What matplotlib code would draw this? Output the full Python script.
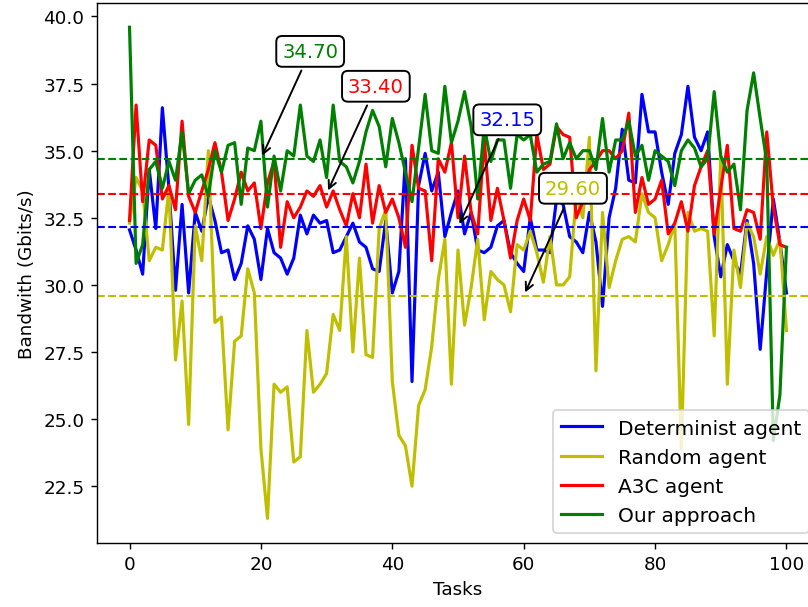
import numpy as np
import matplotlib
matplotlib.use("Agg")
import matplotlib.pyplot as plt

tasks = np.arange(101)

determinist = [32.05, 31.3, 30.4, 34.3, 32.1, 36.6, 33.6, 29.8, 33.0, 29.7,
               32.7, 32.0, 33.3, 32.4, 31.2, 31.3, 30.2, 30.8, 32.2, 31.7,
               30.2, 32.1, 31.2, 31.0, 30.4, 31.0, 32.6, 31.9, 32.6, 32.3,
               32.4, 31.2, 31.3, 31.8, 32.3, 31.6, 31.4, 30.6, 30.5, 32.4,
               29.7, 30.5, 34.7, 26.4, 33.7, 34.9, 33.5, 34.2, 31.8, 32.7,
               33.5, 31.9, 32.7, 31.3, 31.2, 31.4, 32.2, 32.4, 31.2, 30.8,
               30.5, 32.5, 31.3, 31.3, 31.2, 33.2, 33.0, 31.8, 31.6, 31.2,
               32.7, 31.6, 29.2, 32.5, 33.6, 35.8, 33.9, 33.8, 37.1, 35.7,
               35.7, 34.2, 33.0, 34.9, 35.6, 37.4, 35.5, 35.0, 35.7, 31.8,
               30.3, 31.5, 30.9, 30.4, 32.4, 30.8, 27.6, 30.5, 33.2, 31.6,
               29.7]

random_agent = [32.3, 34.0, 33.5, 30.9, 31.4, 31.3, 33.6, 27.2, 29.4, 24.8,
                32.2, 30.9, 35.0, 28.6, 28.8, 24.6, 27.9, 28.1, 30.6, 29.7,
                23.9, 21.3, 26.3, 26.0, 26.2, 23.4, 23.6, 28.3, 26.0, 26.3,
                26.7, 28.9, 28.3, 31.8, 27.5, 31.0, 27.4, 27.3, 32.1, 32.8,
                26.4, 24.4, 24.0, 22.5, 25.5, 26.1, 27.7, 30.2, 31.7, 26.3,
                31.3, 28.5, 29.9, 31.7, 28.7, 30.5, 30.2, 30.0, 29.0, 31.5,
                31.3, 32.0, 31.2, 30.1, 31.8, 30.0, 30.0, 30.3, 33.3, 32.5,
                35.5, 26.8, 32.7, 29.9, 30.9, 31.7, 31.8, 31.6, 33.4, 32.7,
                32.5, 30.9, 31.5, 32.3, 23.9, 32.7, 32.0, 32.1, 32.0, 28.1,
                34.8, 26.3, 31.3, 29.9, 32.3, 31.8, 30.4, 31.8, 31.1, 31.7,
                28.3]

a3c = [32.4, 36.7, 33.1, 35.4, 35.2, 33.2, 33.7, 32.8, 36.1, 33.3,
       32.7, 33.5, 34.3, 35.3, 34.2, 32.4, 33.2, 34.2, 33.5, 33.8,
       32.1, 33.8, 34.6, 31.4, 33.1, 32.5, 32.9, 33.5, 33.3, 33.7,
       32.9, 33.5, 32.8, 32.2, 33.4, 32.5, 34.5, 32.3, 33.7, 32.7,
       33.2, 32.5, 31.4, 35.2, 33.6, 33.5, 30.9, 34.7, 34.2, 35.3,
       32.5, 34.8, 32.7, 31.9, 35.4, 32.4, 33.6, 32.4, 31.0, 32.4,
       33.2, 32.4, 35.6, 34.3, 34.5, 35.9, 35.6, 35.5, 32.5, 33.1,
       34.3, 34.6, 35.0, 35.0, 34.7, 35.0, 36.4, 32.7, 34.0, 33.0,
       33.2, 33.9, 31.9, 32.3, 33.1, 32.0, 33.7, 34.4, 35.0, 31.9,
       33.6, 35.2, 32.1, 32.0, 32.8, 32.7, 31.7, 35.7, 32.9, 31.5,
       31.4]

ours = [39.6, 30.8, 31.5, 34.3, 34.6, 33.6, 34.6, 33.9, 35.7, 33.4,
        33.9, 34.1, 33.3, 35.0, 34.2, 35.2, 35.3, 33.0, 35.1, 35.0,
        36.1, 32.9, 34.8, 33.5, 35.0, 34.8, 36.7, 34.8, 34.6, 35.4,
        34.0, 36.7, 34.6, 34.4, 33.8, 34.6, 35.7, 36.5, 35.9, 34.4,
        36.2, 35.3, 34.2, 33.1, 35.1, 37.1, 35.0, 34.9, 37.4, 35.3,
        36.1, 37.2, 35.9, 33.2, 35.9, 34.6, 35.4, 35.4, 33.6, 35.6,
        35.4, 35.6, 34.2, 34.5, 34.6, 36.0, 34.7, 35.3, 34.7, 35.0,
        35.0, 34.3, 36.2, 34.2, 35.4, 35.4, 36.1, 34.8, 35.2, 33.9,
        35.0, 34.8, 34.6, 33.7, 35.0, 35.4, 35.1, 34.4, 34.7, 37.2,
        34.8, 34.2, 34.5, 32.8, 36.5, 37.9, 36.2, 34.6, 24.2, 25.9,
        31.4]

labels = ["Determinist agent", "Random agent", "A3C agent", "Our approach"]
colors = ["b", "y", "r", "g"]
means = [32.15, 29.60, 33.40, 34.70]
annot_x = [50, 60, 30, 20]

fig = plt.figure(figsize=(6.4, 4.81), dpi=126.4)
ax = fig.add_axes([0.1195, 0.1053, 0.8933, 0.8887])

for series, lab, c in zip([determinist, random_agent, a3c, ours], labels, colors):
    ax.plot(tasks, series, color=c, lw=1.8, label=lab)

# mean lines + boxed values
for m, c, xa in zip(means, colors, annot_x):
    ax.axhline(m, color=c, ls="--", lw=1.2)
    ax.annotate("%.2f" % m, xy=(xa, m), xytext=(xa + 7.5, m + 4),
                color=c, fontsize=11.2, ha="center", va="center",
                bbox=dict(boxstyle="round", fc="w", ec="k", lw=1.1),
                arrowprops=dict(arrowstyle="->", color="k", lw=1.1))

ax.set_xlabel("Tasks", fontsize=10.5)
ax.set_ylabel("Bandwith (Gbits/s)", fontsize=10.5)
ax.tick_params(labelsize=10.5)
ax.legend(loc="lower right", fontsize=11.5)

fig.savefig("out.png", dpi=126.4)
